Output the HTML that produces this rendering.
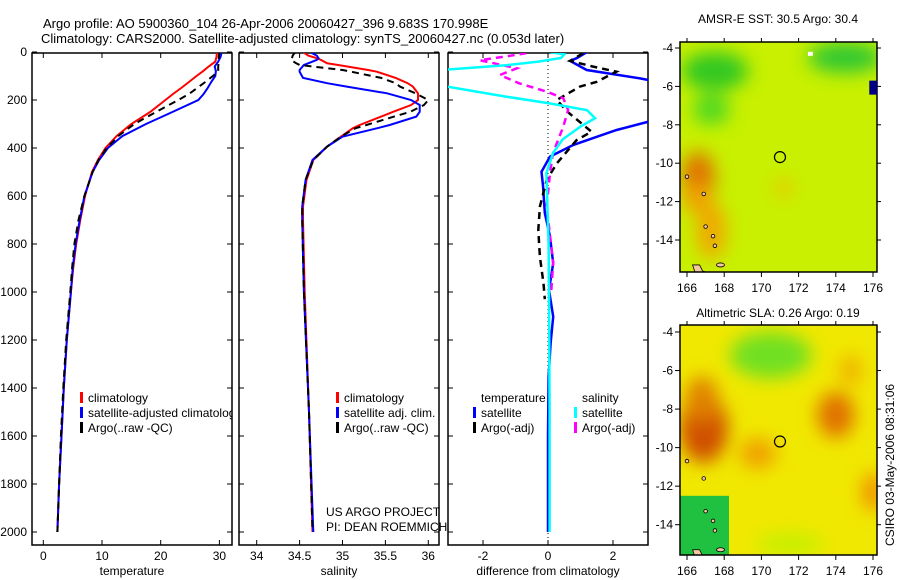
<!DOCTYPE html>
<html><head><meta charset="utf-8"><style>
body{margin:0;background:#fff}
svg{display:block;font-family:"Liberation Sans",sans-serif}
</style></head><body>
<svg id="fig" width="900" height="580" viewBox="0 0 900 580" xmlns="http://www.w3.org/2000/svg">
<defs>
<filter id="blur" x="-50%" y="-50%" width="200%" height="200%"><feGaussianBlur stdDeviation="9"/></filter>
<clipPath id="c1"><rect x="32" y="53" width="200" height="492"/></clipPath>
<clipPath id="c2"><rect x="239" y="53" width="200" height="492"/></clipPath>
<clipPath id="c3"><rect x="448" y="53" width="200" height="492"/></clipPath>
<clipPath id="m1"><rect x="680" y="42" width="197" height="230"/></clipPath>
<clipPath id="m2"><rect x="680" y="325" width="197" height="230"/></clipPath>
</defs>
<text x="43" y="28" font-size="13">Argo profile: AO 5900360_104 26-Apr-2006 20060427_396 9.683S 170.998E</text>
<text x="41" y="43" font-size="13">Climatology: CARS2000. Satellite-adjusted climatology: synTS_20060427.nc (0.053d later)</text>
<text x="778" y="23" font-size="12" text-anchor="middle">AMSR-E SST: 30.5 Argo: 30.4</text>
<text x="778" y="317" font-size="12" text-anchor="middle">Altimetric SLA: 0.26 Argo: 0.19</text>
<text transform="translate(894,465) rotate(-90)" font-size="12" text-anchor="middle">CSIRO 03-May-2006 08:31:06</text>
<g id="g"></g>
</svg>
<script>
// ---- profile data ----
const depths = [0,20,40,60,80,100,125,150,175,200,250,300,350,400,450,500,600,700,800,900,1000,1200,1400,1600,1800,2000];
const tempClim = [29.6,29.5,29.3,28.2,27.2,26.1,24.8,23.5,22.1,20.8,18.2,15.0,12.5,10.6,9.3,8.3,7.1,6.3,5.6,5.1,4.7,4.0,3.5,3.1,2.7,2.4];
const tempSat  = [30.4,30.2,29.8,29.2,29.4,29.3,28.6,28.0,27.3,26.4,22.0,17.5,13.5,11.0,9.5,8.4,7.0,6.2,5.5,5.0,4.7,4.0,3.5,3.1,2.7,2.4];
const tempArgo = [30.0,29.9,29.9,29.8,29.8,28.9,27.6,26.2,24.8,23.0,19.2,15.5,12.8,10.8,9.4,8.4,7.0,6.0,5.3,4.9,4.6,3.9,3.4,3.0,2.7,2.4];
const salDepths = [0,15,26,33,47,54,75,82,108,130,144,172,200,221,249,269,304,318,353,394,450,533,644,700,1000,1500,2000];
const salClim = [34.54,34.60,34.70,34.75,34.82,34.95,35.30,35.40,35.62,35.76,35.82,35.88,35.88,35.80,35.59,35.45,35.20,35.12,34.98,34.82,34.66,34.58,34.54,34.54,34.56,34.61,34.65];
const salSat  = [34.62,34.70,34.72,34.70,34.60,34.55,34.50,34.50,34.54,34.82,35.05,35.52,35.80,35.90,35.90,35.86,35.55,35.40,35.00,34.82,34.65,34.57,34.53,34.53,34.55,34.61,34.66];
const salArgo = [34.45,34.42,34.41,34.40,34.46,34.50,35.00,35.10,35.45,35.62,35.67,35.85,36.00,35.95,35.79,35.60,35.28,35.15,34.98,34.82,34.66,34.57,34.53,34.53,34.55,34.61,34.65];
// ---- difference panel data ----
const dTempSatDepths = [0,26,37,75,110,140,200,260,290,325,387,436,499,561,671,769,880,992,1103,1214,1353,1600,2000];
const dTempSat = [1.2,0.88,0.68,1.19,2.83,4,5,4,3.1,2.11,0.78,0.06,-0.2,-0.15,-0.1,0.06,0.16,0.03,0.16,0.08,0.02,0.0,0.0];
const dTempArgoDepths = [5,37,61,82,124,144,200,249,332,367,464,533,644,742,853,964,1030];
const dTempArgo = [1.08,0.68,1.39,2.1,1.5,0.98,0.27,0.6,1.34,0.88,0.27,-0.04,-0.25,-0.3,-0.25,-0.14,-0.1];
const dSalSatDepths = [0,10,25,40,55,75,100,125,144,165,186,214,242,276,311,364,422,505,800,1000,1500,2000];
const dSalSat = [0.05,0.5,0.4,-0.3,-1.3,-3.3,-4,-3.8,-3.1,-2.2,-1.3,0.05,1.2,1.45,1.0,0.45,0.15,-0.05,0.02,0.03,0.05,0.05];
const dSalArgoDepths = [5,18,34,68,96,130,165,193,242,311,422,505,644,880,992];
const dSalArgo = [-0.66,-1.27,-2.1,-0.96,-1.48,-0.9,-0.04,0.47,0.62,0.47,0.15,0.06,-0.04,0.16,0.1];
// ---- ticks ----
const depthTicks = [0,200,400,600,800,1000,1200,1400,1600,1800,2000];
const tempTicks = [0,10,20,30];
const salTicks = [34,34.5,35,35.5,36];
const diffTicks = [-2,0,2];
const lonTicks = [166,168,170,172,174,176];
const latTicks = [-4,-6,-8,-10,-12,-14];

const NS="http://www.w3.org/2000/svg";
const G=document.getElementById('g');
function mk(tag,attrs,parent){const e=document.createElementNS(NS,tag);for(const k in attrs)e.setAttribute(k,attrs[k]);(parent||G).appendChild(e);return e;}
const yD = d => 52 + d*0.24;
const xT = t => 43.3 + t*5.87;
const xS = s => 256.7 + (s-34)*85.8;
const xDf = v => 548 + v*32.5;

function line(xs,ds,xf,color,dash,clip,name,w){
  const pts=xs.map((v,i)=>xf(v).toFixed(1)+','+yD(ds[i]).toFixed(1)).join(' ');
  const p=mk('polyline',{points:pts,fill:'none',stroke:color,'stroke-width':w||2,'clip-path':'url(#'+clip+')'});
  if(dash)p.setAttribute('stroke-dasharray',dash);
  
  
}
function frame(x0,x1,name){
  const r=mk('rect',{x:x0,y:53,width:x1-x0,height:492,fill:'none',stroke:'#000','stroke-width':1.5});
  
  
  depthTicks.forEach(d=>{
    mk('line',{x1:x0,x2:x0+5,y1:yD(d),y2:yD(d),stroke:'#000'});
    mk('line',{x1:x1,x2:x1-5,y1:yD(d),y2:yD(d),stroke:'#000'});
  });
}
function xticks(ticks,xf,x0,x1,labelFmt,name){
  ticks.forEach(t=>{
    const x=xf(t);
    mk('line',{x1:x,x2:x,y1:545,y2:540,stroke:'#000'});
    mk('line',{x1:x,x2:x,y1:53,y2:58,stroke:'#000'});
    const tx=mk('text',{x:x,y:560,'font-size':12,'text-anchor':'middle'});tx.textContent=labelFmt(t);
    
    
  });
}
frame(32,232,'temperature-panel');
frame(239,439,'salinity-panel');
frame(448,648,'difference-panel');
depthTicks.forEach(d=>{
  const t=mk('text',{x:27,y:yD(d)+4,'font-size':12,'text-anchor':'end'});t.textContent=d;
  
  
});
xticks(tempTicks,xT,32,232,String,'temperature');
xticks(salTicks,xS,239,439,String,'salinity');
xticks(diffTicks,xDf,448,648,String,'difference');
[['temperature',132],['salinity',339],['difference from climatology',548]].forEach(([s,x])=>{
  const t=mk('text',{x:x,y:575,'font-size':12,'text-anchor':'middle'});t.textContent=s;
  
  
});
const zl=mk('line',{x1:xDf(0),x2:xDf(0),y1:53,y2:545,stroke:'#000','stroke-dasharray':'1,3'});



line(tempClim,depths,xT,'#f00',null,'c1','temp-climatology-line');
line(tempSat,depths,xT,'#00f',null,'c1','temp-satellite-line');
line(tempArgo,depths,xT,'#000','7,5','c1','temp-argo-line');
line(salClim,salDepths,xS,'#f00',null,'c2','sal-climatology-line');
line(salSat,salDepths,xS,'#00f',null,'c2','sal-satellite-line');
line(salArgo,salDepths,xS,'#000','7,5','c2','sal-argo-line');
line(dTempSat,dTempSatDepths,xDf,'#00f',null,'c3','diff-temp-satellite-line',2.5);
line(dTempArgo,dTempArgoDepths,xDf,'#000','7,5','c3','diff-temp-argo-line',2.5);
line(dSalArgo,dSalArgoDepths,xDf,'#f0f','7,5','c3','diff-sal-argo-line',2.5);
line(dSalSat,dSalSatDepths,xDf,'#0ff',null,'c3','diff-sal-satellite-line',2.5);

function legend(x,y,color,label,name,clip){
  const g=mk('g',{});
  if(clip)g.setAttribute('clip-path','url(#'+clip+')');
  
  
  if(color)mk('rect',{x:x,y:y-10,width:3,height:11,fill:color},g);
  const t=mk('text',{x:x+8,y:y,'font-size':12},g);t.textContent=label;
}
legend(80,402,'#f00','climatology','legend-climatology','c1');
legend(80,417,'#00f','satellite-adjusted climatology','legend-satellite','c1');
legend(80,432,'#000','Argo(..raw -QC)','legend-argo','c1');
legend(336,402,'#f00','climatology','legend-sal-climatology');
legend(336,417,'#00f','satellite adj. clim.','legend-sal-satellite');
legend(336,432,'#000','Argo(..raw -QC)','legend-sal-argo');
legend(473,402,null,'temperature','legend-temperature-header');
legend(473,417,'#00f','satellite','legend-diff-temp-sat');
legend(473,432,'#000','Argo(-adj)','legend-diff-temp-argo');
legend(574,402,null,'salinity','legend-salinity-header');
legend(574,417,'#0ff','satellite','legend-diff-sal-sat');
legend(574,432,'#f0f','Argo(-adj)','legend-diff-sal-argo');
[['US ARGO PROJECT',516],['PI: DEAN ROEMMICH',531]].forEach(([s,y])=>{
  const t=mk('text',{x:326,y:y,'font-size':12});t.textContent=s;
  
  
});

// ---- maps ----
const lonX = l => 687 + (l-166)*18.6;
function map(top,latY,clip,base,blobs,name,extra){
  const g=mk('g',{'clip-path':'url(#'+clip+')'});
  
  
  mk('rect',{x:680,y:top,width:197,height:230,fill:base},g);
  const bg=mk('g',{filter:'url(#blur)'},g);
  blobs.forEach(b=>mk('ellipse',{cx:lonX(b[0]),cy:latY(b[1]),rx:b[2]*18.6,ry:b[3]*19.2,fill:b[4]},bg));
  if(extra)extra(g);
  mk('path',{d:`M${lonX(166.3)} ${latY(-15.3)} l4 12 l10 4 l2 -8 l-6 -2 l-3 -6 z`,fill:'#f5c8a0',stroke:'#000','stroke-width':0.8},g);
  mk('ellipse',{cx:lonX(167.8),cy:latY(-15.3),rx:4,ry:2,fill:'#f5c8a0',stroke:'#000','stroke-width':0.8},g);
  [[167.0,-13.3],[166.9,-11.6],[167.4,-13.8],[166.0,-10.7],[167.5,-14.3]].forEach(p=>mk('circle',{cx:lonX(p[0]),cy:latY(p[1]),r:1.8,fill:'#f5c8a0',stroke:'#000','stroke-width':0.8},g));
  const c=mk('circle',{cx:lonX(170.998),cy:latY(-9.683),r:5.5,fill:'none',stroke:'#000','stroke-width':1.2});
  
  
  mk('rect',{x:680,y:top,width:197,height:230,fill:'none',stroke:'#000','stroke-width':1.5});
  lonTicks.forEach(l=>{
    mk('line',{x1:lonX(l),x2:lonX(l),y1:top+230,y2:top+235,stroke:'#000'});
    mk('line',{x1:lonX(l),x2:lonX(l),y1:top,y2:top-4,stroke:'#000'});
    const t=mk('text',{x:lonX(l),y:top+250,'font-size':12,'text-anchor':'middle'});t.textContent=l;
    
    
  });
  latTicks.forEach(l=>{
    mk('line',{x1:680,x2:675,y1:latY(l),y2:latY(l),stroke:'#000'});
    mk('line',{x1:877,x2:881,y1:latY(l),y2:latY(l),stroke:'#000'});
    const t=mk('text',{x:673,y:latY(l)+4,'font-size':12,'text-anchor':'end'});t.textContent=l;
    
    
  });
}
const sstY = l => 48 + (-4-l)*19.2;
const slaY = l => 332 + (-4-l)*19.27;
map(42,sstY,'m1','#c8f000',[
  [167.5,-5.2,1.8,1.0,'#30c820'],[167.3,-7.2,1.0,0.8,'#50d820'],[174.5,-4.5,2,0.8,'#30c830'],
  [166.6,-10.8,0.9,1.4,'#e07000'],[167.3,-13.5,0.8,1.5,'#f0a800'],[171.2,-11.3,0.4,0.5,'#f0c000'],
  [166.5,-11.8,0.8,0.8,'#f0a000']
],'sst-map');
mk('rect',{x:lonX(175.8),y:sstY(-5.7),width:8,height:14,fill:'#000080'});
mk('rect',{x:lonX(172.5),y:sstY(-4.2),width:5,height:4,fill:'#fff'});
map(325,slaY,'m2','#f0e800',[
  [170.5,-5.2,2.2,1.2,'#70e020'],[166.9,-9.0,1.3,1.8,'#d05000'],[166.8,-7.5,0.9,1.2,'#e08000'],
  [174.0,-8.3,1.0,1.2,'#e07000'],[169.8,-10.3,1.0,0.8,'#f0a000'],[176,-12.3,0.6,1.0,'#f09000'],
  [174.8,-6.0,0.6,0.8,'#f0b000'],[171.5,-15,1.8,0.5,'#c0f000']
],'sla-map',g=>{
  mk('rect',{x:lonX(166)-8,y:slaY(-12.5),width:50,height:70,fill:'#20c040'},g);
});
</script>
</body></html>
